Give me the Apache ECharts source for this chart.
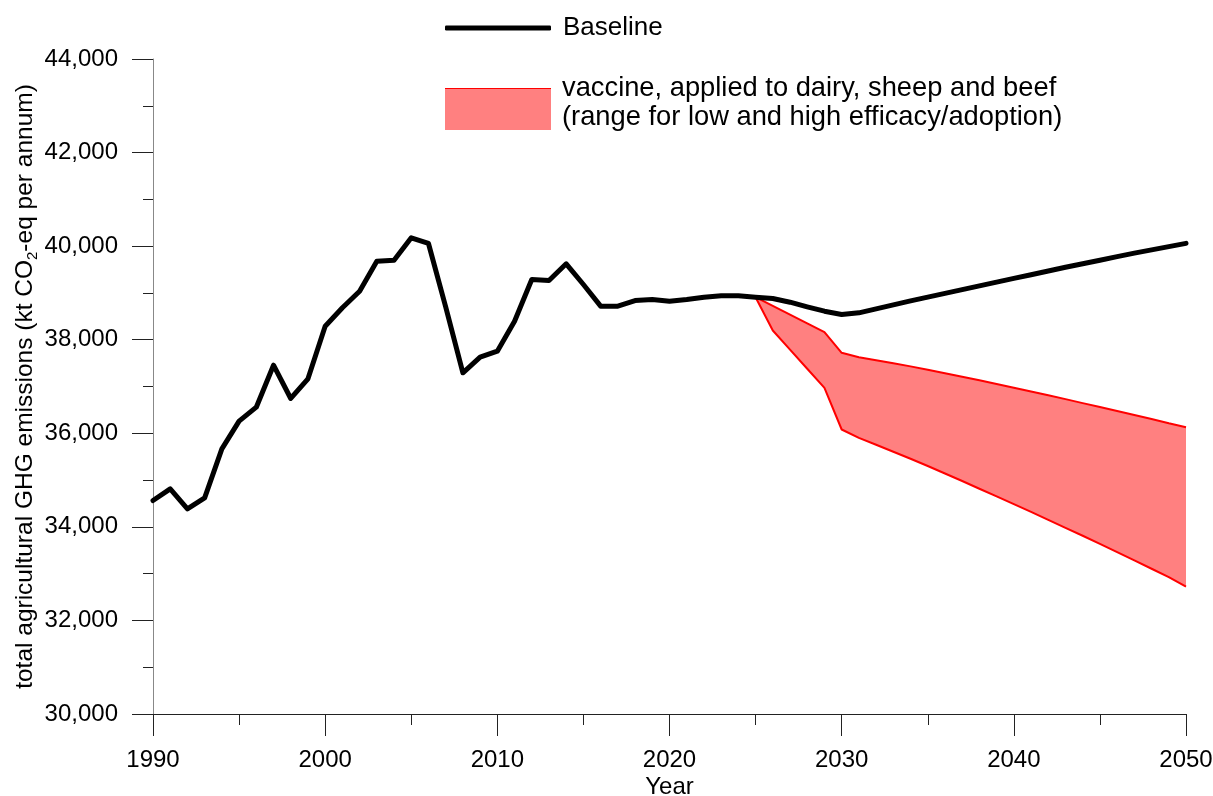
<!DOCTYPE html>
<html style="height: 100%">
<head>
    <meta charset="utf-8">
</head>
<body style="height: 100%; margin: 0">
<div id="container" style="width: 1213px; height: 796px"></div>
<script type="text/javascript" src="https://cdn.jsdelivr.net/npm/echarts@6/dist/echarts.min.js"></script>
<script type="text/javascript">
    // years 1990..2050 and baseline emissions (kt CO2-eq)
    var years = [1990, 1991, 1992, 1993, 1994, 1995, 1996, 1997, 1998, 1999,
        2000, 2001, 2002, 2003, 2004, 2005, 2006, 2007, 2008, 2009,
        2010, 2011, 2012, 2013, 2014, 2015, 2016, 2017, 2018, 2019,
        2020, 2021, 2022, 2023, 2024, 2025, 2026, 2027, 2028, 2029,
        2030, 2031, 2032, 2033, 2034, 2035, 2036, 2037, 2038, 2039,
        2040, 2041, 2042, 2043, 2044, 2045, 2046, 2047, 2048, 2049, 2050];
    var baseline = [34563, 34813, 34386, 34621, 35668, 36259, 36558, 37455, 36744, 37164,
        38289, 38682, 39037, 39678, 39700, 40178, 40057, 38700, 37293, 37626,
        37755, 38396, 39287, 39266, 39623, 39180, 38717, 38717, 38838, 38860,
        38824, 38860, 38909, 38938, 38938, 38909, 38881, 38802, 38703, 38610,
        38539, 38575, 38660, 38745, 38830, 38910, 38990, 39070, 39150, 39230,
        39310, 39390, 39470, 39550, 39625, 39700, 39775, 39850, 39920, 39990, 40060];

    // vaccine scenario range, 2025..2050
    var bandYears = [2025, 2026, 2027, 2028, 2029, 2030, 2031, 2032, 2033, 2034,
        2035, 2036, 2037, 2038, 2039, 2040, 2041, 2042, 2043, 2044,
        2045, 2046, 2047, 2048, 2049, 2050];
    var vaccineLow = [38909, 38722, 38535, 38348, 38161, 37720, 37626, 37560, 37495, 37430,
        37360, 37285, 37210, 37135, 37055, 36975, 36895, 36815, 36730, 36645,
        36560, 36475, 36390, 36305, 36215, 36130];
    var vaccineHigh = [38909, 38197, 37788, 37380, 36972, 36081, 35903, 35755, 35605, 35455,
        35300, 35140, 34980, 34815, 34650, 34485, 34320, 34150, 33980, 33810,
        33635, 33460, 33285, 33105, 32925, 32720];

    var xTicks = {min: 1990, max: 2050, interval: 10};
    var yTicks = {min: 30000, max: 44000, interval: 2000};

    var bandName = 'vaccine, applied to dairy, sheep and beef\n(range for low and high efficacy/adoption)';
    var font = '"Liberation Sans", Arial, sans-serif';

    function pairs(xs, ys) {
        return xs.map(function (x, i) { return [x, ys[i]]; });
    }

    // whole band polygon drawn once, from the data, through the axes
    function renderBand(params, api) {
        if (params.dataIndexInside !== 0) {
            return;
        }
        var n = params.dataInsideLength;
        var top = [], bottom = [];
        for (var i = 0; i < n; i++) {
            top.push(api.coord([api.value(0, i), api.value(1, i)]));
            bottom.unshift(api.coord([api.value(0, i), api.value(2, i)]));
        }
        return {
            type: 'polygon',
            shape: {points: top.concat(bottom)},
            style: {fill: '#FF8080', stroke: null}
        };
    }

    var dom = document.getElementById("container");
    var myChart = echarts.init(dom);
    var option = {
        backgroundColor: '#ffffff',
        animation: false,
        textStyle: {fontFamily: font, color: '#000'},
        grid: {left: 153, right: 27, top: 59, bottom: 82, containLabel: false, outerBoundsMode: 'none'},
        legend: [
            {
                left: 445, top: 13, padding: 0,
                itemWidth: 106, itemHeight: 5,
                textStyle: {fontFamily: font, fontSize: 26, color: '#000', lineHeight: 30, padding: [0, 0, 0, 7]},
                data: [{name: 'Baseline', icon: 'roundRect', itemStyle: {color: '#000'}}],
                selectedMode: false
            },
            {
                left: 445, top: 73.5, padding: 0,
                itemWidth: 106, itemHeight: 41,
                // an extra short line under the text lifts it a little above the swatch centre
                formatter: function (name) { return name + '\n{gap| }'; },
                textStyle: {
                    fontFamily: font, fontSize: 27.3, color: '#000', lineHeight: 29, padding: [0, 0, 0, 6],
                    rich: {gap: {fontSize: 1, lineHeight: 14}}
                },
                data: [{name: bandName, icon: 'rect', itemStyle: {color: '#FF8080', borderWidth: 0}}],
                selectedMode: false
            }
        ],
        graphic: [
            // red edge on top of the legend swatch
            {type: 'rect', left: 445, top: 88, shape: {width: 106, height: 2}, style: {fill: '#FF0000'}}
        ],
        xAxis: {
            type: 'value',
            min: xTicks.min, max: xTicks.max, interval: xTicks.interval,
            name: 'Year',
            nameLocation: 'middle',
            nameGap: 61,
            nameMoveOverlap: false,
            nameTextStyle: {fontFamily: font, fontSize: 24, color: '#000'},
            axisLine: {lineStyle: {color: '#222', width: 1}},
            axisTick: {show: true, inside: false, length: 22, lineStyle: {color: '#222'}},
            minorTick: {show: true, splitNumber: 2, length: 11, lineStyle: {color: '#222'}},
            splitLine: {show: false},
            axisLabel: {
                margin: 34, fontFamily: font, fontSize: 24, color: '#000',
                formatter: function (v) { return String(v); }
            }
        },
        yAxis: {
            type: 'value',
            min: yTicks.min, max: yTicks.max, interval: yTicks.interval,
            name: 'total agricultural GHG emissions (kt CO{sub|2}-eq per annum)',
            nameLocation: 'middle',
            nameGap: 113,
            nameMoveOverlap: false,
            nameTextStyle: {
                fontFamily: font, fontSize: 24.5, color: '#000', lineHeight: 30,
                rich: {sub: {fontFamily: font, fontSize: 15, color: '#000', lineHeight: 30, verticalAlign: 'bottom'}}
            },
            axisLine: {show: true, lineStyle: {color: '#888', width: 1}},
            axisTick: {show: true, inside: false, length: 21, lineStyle: {color: '#222'}},
            minorTick: {show: true, splitNumber: 2, length: 10, lineStyle: {color: '#222'}},
            splitLine: {show: false},
            axisLabel: {
                margin: 35, fontFamily: font, fontSize: 24, color: '#000',
                formatter: function (v) { return v.toLocaleString('en-US'); }
            }
        },
        series: [
            {
                name: bandName,
                type: 'custom',
                renderItem: renderBand,
                data: bandYears.map(function (y, i) { return [y, vaccineLow[i], vaccineHigh[i]]; }),
                encode: {x: 0, y: [1, 2]},
                itemStyle: {color: '#FF8080'},
                z: 2
            },
            {
                name: 'vaccine low',
                type: 'line',
                data: pairs(bandYears, vaccineLow),
                showSymbol: false,
                z: 3,
                lineStyle: {color: '#FF0000', width: 2},
                itemStyle: {color: '#FF0000'}
            },
            {
                name: 'vaccine high',
                type: 'line',
                data: pairs(bandYears, vaccineHigh),
                showSymbol: false,
                z: 3,
                lineStyle: {color: '#FF0000', width: 2},
                itemStyle: {color: '#FF0000'}
            },
            {
                name: 'Baseline',
                type: 'line',
                data: pairs(years, baseline),
                showSymbol: false,
                z: 4,
                lineStyle: {color: '#000', width: 5, cap: 'round', join: 'round'},
                itemStyle: {color: '#000'}
            }
        ]
    };
    myChart.setOption(option, true);
</script>
</body>
</html>
